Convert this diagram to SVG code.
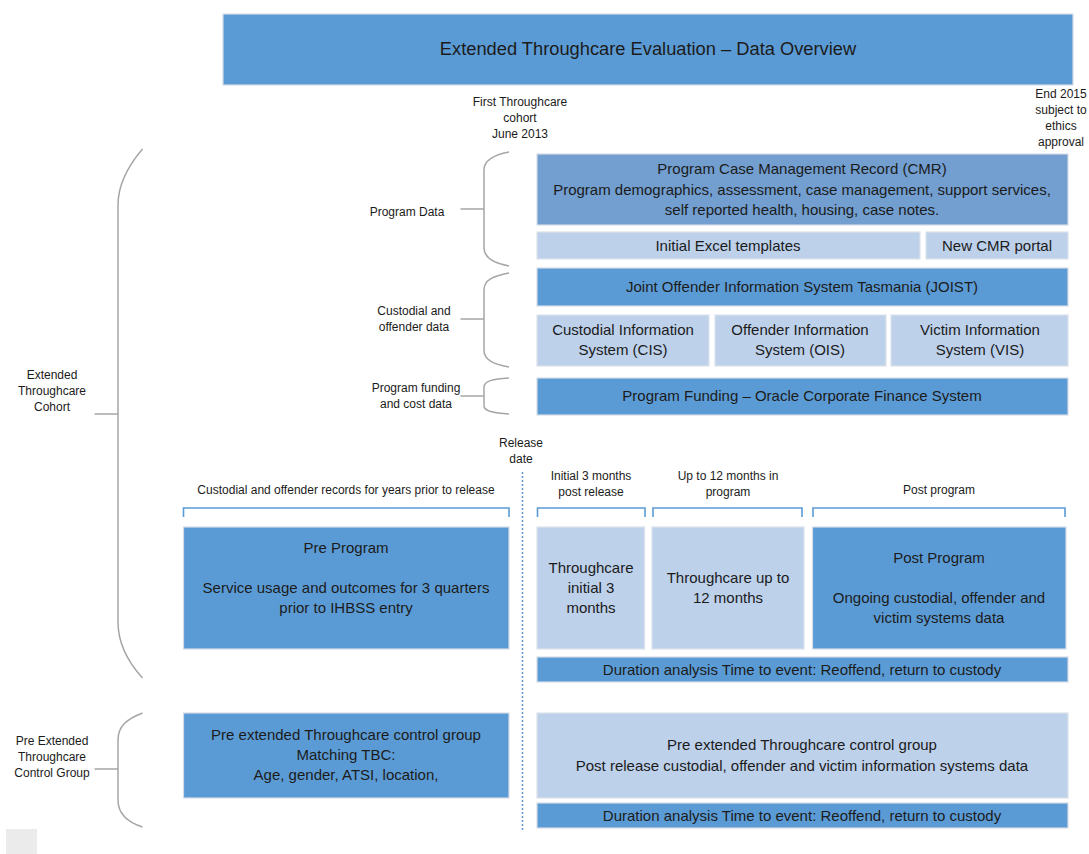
<svg xmlns="http://www.w3.org/2000/svg" width="1089" height="854" viewBox="0 0 1089 854">
<style>
text{font-family:"Liberation Sans",Arial,sans-serif;fill:#1b1b1b;text-anchor:middle}
.t{font-size:15px}
.s{font-size:12px}
.ttl{font-size:18.3px}
.dk{fill:#5B9BD5;stroke:#D5DCE6;stroke-width:1.2}
.md{fill:#729FD0;stroke:#D5DCE6;stroke-width:1.2}
.lt{fill:#BDD1EB;stroke:#DCE2EA;stroke-width:1.2}
.br{fill:none;stroke:#A6A6A6;stroke-width:1.5}
.bk{fill:none;stroke:#5B9BD5;stroke-width:1.6}
</style>
<rect x="0" y="0" width="1089" height="854" fill="#FFFFFF"/>
<g id="title"><rect class="dk" x="223" y="14" width="850" height="71"/><text class="ttl" x="648" y="55">Extended Throughcare Evaluation – Data Overview</text></g>
<g id="lbl-first"><text class="s"><tspan x="520" y="106">First Throughcare</tspan><tspan x="520" y="122">cohort</tspan><tspan x="520" y="138">June 2013</tspan></text></g>
<g id="lbl-end"><text class="s"><tspan x="1061" y="98">End 2015</tspan><tspan x="1061" y="114">subject to</tspan><tspan x="1061" y="130">ethics</tspan><tspan x="1061" y="146">approval</tspan></text></g>
<g id="cmr"><rect class="md" x="537" y="154" width="531" height="71"/><text class="t"><tspan x="802" y="174">Program Case Management Record (CMR)</tspan><tspan x="802" y="195">Program demographics, assessment, case management, support services,</tspan><tspan x="802" y="215">self reported health, housing, case notes.</tspan></text></g>
<g id="excel"><rect class="lt" x="537" y="232" width="383" height="27"/><text class="t" x="728" y="251">Initial Excel templates</text></g>
<g id="portal"><rect class="lt" x="926" y="232" width="142" height="27"/><text class="t" x="997" y="251">New CMR portal</text></g>
<g id="joist"><rect class="dk" x="537" y="268" width="531" height="38"/><text class="t" x="802" y="292">Joint Offender Information System Tasmania (JOIST)</text></g>
<g id="cis"><rect class="lt" x="537" y="315" width="172" height="51"/><text class="t"><tspan x="623" y="335">Custodial Information</tspan><tspan x="623" y="355">System (CIS)</tspan></text></g>
<g id="ois"><rect class="lt" x="715" y="315" width="171" height="51"/><text class="t"><tspan x="800" y="335">Offender Information</tspan><tspan x="800" y="355">System (OIS)</tspan></text></g>
<g id="vis"><rect class="lt" x="891" y="315" width="177" height="51"/><text class="t"><tspan x="980" y="335">Victim Information</tspan><tspan x="980" y="355">System (VIS)</tspan></text></g>
<g id="funding"><rect class="dk" x="537" y="378" width="531" height="37"/><text class="t" x="802" y="401">Program Funding – Oracle Corporate Finance System</text></g>
<g id="lbl-programdata"><text class="s" x="407" y="216">Program Data</text></g>
<g id="lbl-custodial"><text class="s"><tspan x="414" y="315">Custodial and</tspan><tspan x="414" y="331">offender data</tspan></text></g>
<g id="lbl-funding"><text class="s"><tspan x="416" y="392">Program funding</tspan><tspan x="416" y="408">and cost data</tspan></text></g>
<g id="lbl-cohort"><text class="s"><tspan x="52" y="379">Extended</tspan><tspan x="52" y="395">Throughcare</tspan><tspan x="52" y="411">Cohort</tspan></text></g>
<g id="lbl-control"><text class="s"><tspan x="52" y="745">Pre Extended</tspan><tspan x="52" y="761">Throughcare</tspan><tspan x="52" y="777">Control Group</tspan></text></g>
<g id="lbl-release"><text class="s"><tspan x="521" y="447">Release</tspan><tspan x="521" y="463">date</tspan></text></g>
<g id="lbl-prior"><text class="s" x="346" y="494">Custodial and offender records for years prior to release</text></g>
<g id="lbl-initial"><text class="s"><tspan x="591" y="480">Initial 3 months</tspan><tspan x="591" y="496">post release</tspan></text></g>
<g id="lbl-upto"><text class="s"><tspan x="728" y="480">Up to 12 months in</tspan><tspan x="728" y="496">program</tspan></text></g>
<g id="lbl-post"><text class="s" x="939" y="494">Post program</text></g>
<g id="preprogram"><rect class="dk" x="183.5" y="527" width="325.5" height="122"/><text class="t"><tspan x="346" y="553">Pre Program</tspan><tspan x="346" y="593">Service usage and outcomes for 3 quarters</tspan><tspan x="346" y="613">prior to IHBSS entry</tspan></text></g>
<g id="tc3"><rect class="lt" x="537" y="527" width="107.5" height="122"/><text class="t"><tspan x="591" y="573">Throughcare</tspan><tspan x="591" y="593">initial 3</tspan><tspan x="591" y="613">months</tspan></text></g>
<g id="tc12"><rect class="lt" x="652" y="527" width="152" height="122"/><text class="t"><tspan x="728" y="583">Throughcare up to</tspan><tspan x="728" y="603">12 months</tspan></text></g>
<g id="postprogram"><rect class="dk" x="812.5" y="527" width="253.5" height="122"/><text class="t"><tspan x="939" y="563">Post Program</tspan><tspan x="939" y="603">Ongoing custodial, offender and</tspan><tspan x="939" y="623">victim systems data</tspan></text></g>
<g id="duration1"><rect class="dk" x="537" y="657" width="531" height="25"/><text class="t" x="802" y="675">Duration analysis Time to event: Reoffend, return to custody</text></g>
<g id="control-left"><rect class="dk" x="183.5" y="713" width="325.5" height="85"/><text class="t"><tspan x="346" y="740">Pre extended Throughcare control group</tspan><tspan x="346" y="760">Matching TBC:</tspan><tspan x="346" y="780">Age, gender, ATSI, location,</tspan></text></g>
<g id="control-right"><rect class="lt" x="537" y="713" width="531" height="85"/><text class="t"><tspan x="802" y="750">Pre extended Throughcare control group</tspan><tspan x="802" y="771">Post release custodial, offender and victim information systems data</tspan></text></g>
<g id="duration2"><rect class="dk" x="537" y="803" width="531" height="25"/><text class="t" x="802" y="821">Duration analysis Time to event: Reoffend, return to custody</text></g>
<g id="connectors">
<path class="br" d="M142.5,149 C128,166 118,185 118,205 L118,622 C118,643 128,662 142.5,678"/>
<path class="br" d="M94.5,414 H118"/>
<path class="br" d="M509,152 C493,155 484,160 484,170 L484,248 C484,258 493,263 509,266"/>
<path class="br" d="M460.5,209 H484"/>
<path class="br" d="M509,273 C493,276 484,280 484,290 L484,350 C484,360 493,364 509,367"/>
<path class="br" d="M460.5,319 H484"/>
<path class="br" d="M509,378 C493,379 484,381 484,387 L484,406 C484,411 493,413 509,414"/>
<path class="br" d="M460.5,396 H484"/>
<path class="br" d="M142.5,713 C127,719 118,726 118,740 L118,800 C118,814 127,822 142.5,827"/>
<path class="br" d="M94.5,769 H118"/>
<path d="M522.5,472 V832" fill="none" stroke="#5B9BD5" stroke-width="1.5" stroke-dasharray="2,2"/>
<path class="bk" d="M183.5,517 V508 H509 V517"/>
<path class="bk" d="M537.5,517 V508 H645 V517"/>
<path class="bk" d="M653,517 V508 H802 V517"/>
<path class="bk" d="M813,517 V508 H1065 V517"/>
</g>
<rect x="6" y="829" width="31" height="25" fill="#EBEBEB"/>
</svg>
